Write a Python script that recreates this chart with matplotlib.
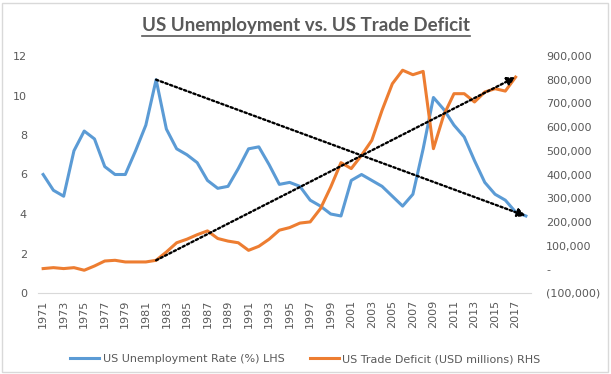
import matplotlib
matplotlib.use('Agg')
import matplotlib.pyplot as plt
from matplotlib.lines import Line2D
from matplotlib.patches import Rectangle
from matplotlib.ticker import FuncFormatter

years = list(range(1971, 2019))
unemployment = [6.0, 5.2, 4.9, 7.2, 8.2, 7.8, 6.4, 6.0, 6.0, 7.2, 8.5, 10.8,
                8.3, 7.3, 7.0, 6.6, 5.7, 5.3, 5.4, 6.3, 7.3, 7.4, 6.5, 5.5,
                5.6, 5.4, 4.7, 4.4, 4.0, 3.9, 5.7, 6.0, 5.7, 5.4, 4.9, 4.4,
                5.0, 7.3, 9.9, 9.3, 8.5, 7.9, 6.7, 5.6, 5.0, 4.7, 4.1, 3.9]
deficit_years = list(range(1971, 2018))
trade_deficit = [3000, 7000, 3000, 7000, -4000, 14000, 35000, 38000, 31000, 31000,
                 31000, 38000, 73000, 112000, 127000, 146000, 162000, 130000, 119000,
                 112000, 80000, 97000, 127000, 165000, 176000, 195000, 200000, 256000,
                 347000, 450000, 425000, 481000, 544000, 671000, 783000, 840000,
                 821000, 835000, 509000, 650000, 741000, 741000, 706000, 748000,
                 762000, 752000, 811000]

blue = '#5B9BD5'
orange = '#ED7D31'
txt = '#595959'

fig = plt.figure(figsize=(6.11, 3.74), dpi=100)
ax = fig.add_axes([38 / 611, 1 - 293 / 374, (531 - 38) / 611, (293 - 56) / 374])
ax2 = ax.twinx()

ax.plot(years, unemployment, color=blue, lw=2.2, solid_joinstyle='round', zorder=3)
ax2.plot(deficit_years, trade_deficit, color=orange, lw=2.2, solid_joinstyle='round', zorder=3)

ax.set_xlim(1970.5, 2018.5)
ax.set_ylim(0, 12)
ax.set_yticks(range(0, 13, 2))
ax2.set_ylim(-100000, 900000)
ax2.set_yticks(range(-100000, 900001, 100000))

def fmt_right(v, pos):
    if v == 0:
        return '-'
    if v < 0:
        return f'({abs(v):,.0f})'
    return f'{v:,.0f}'

ax2.yaxis.set_major_formatter(FuncFormatter(fmt_right))
ax.set_xticks(years[::2])
ax.set_xticklabels([str(y) for y in years[::2]], rotation=90)

for a in (ax, ax2):
    for s in a.spines.values():
        s.set_visible(False)
    a.tick_params(length=0, labelsize=8, labelcolor=txt)
ax.spines['bottom'].set_visible(True)
ax.spines['bottom'].set_color('#D9D9D9')
ax.tick_params(axis='y', pad=8)
ax.tick_params(axis='x', pad=5)
ax2.tick_params(axis='y', pad=11)
for lbl in ax2.get_yticklabels():
    lbl.set_horizontalalignment('left')

# dotted trend arrows from 1982 to the latest value
arrow_kw = dict(arrowstyle='-|>', color='black', lw=1.7, linestyle=(0, (1, 1.1)),
                mutation_scale=12, shrinkA=0, shrinkB=0)
ax2.set_zorder(ax.get_zorder() + 1)
ax2.patch.set_visible(False)
i82 = years.index(1982)
ax2.annotate('', xy=(years[-1], unemployment[-1]), xytext=(1982, unemployment[i82]),
             xycoords=ax.transData, textcoords=ax.transData, arrowprops=arrow_kw, zorder=5)
ax2.annotate('', xy=(deficit_years[-1], trade_deficit[-1]), xytext=(1982, trade_deficit[i82]),
             arrowprops=arrow_kw, zorder=5)

handles = [Line2D([], [], color=blue, lw=2.2), Line2D([], [], color=orange, lw=2.2)]
fig.legend(handles, ['US Unemployment Rate (%) LHS', 'US Trade Deficit (USD millions) RHS'],
           loc='center', bbox_to_anchor=(0.5, 1 - 359 / 374), ncol=2, frameon=False,
           fontsize=8, labelcolor=txt, handlelength=2.6, columnspacing=2.3,
           handletextpad=0.3)

title = fig.text(0.5, 1 - 26 / 374, 'US Unemployment vs. US Trade Deficit', ha='center',
                 va='center', fontsize=13.5, fontweight='bold', color=txt, family='Lato')
fig.canvas.draw()
bb = title.get_window_extent(fig.canvas.get_renderer())
y_ul = (bb.y0 - 1) / fig.bbox.height
fig.add_artist(Line2D([bb.x0 / fig.bbox.width, bb.x1 / fig.bbox.width], [y_ul, y_ul],
                      transform=fig.transFigure, color=txt, lw=1.2))

fig.add_artist(Rectangle((2 / 611, 2 / 374), 606 / 611, 369 / 374, transform=fig.transFigure,
                         fill=False, edgecolor='#D9D9D9', lw=1))

plt.savefig('out.png', dpi=100)
plt.close()
